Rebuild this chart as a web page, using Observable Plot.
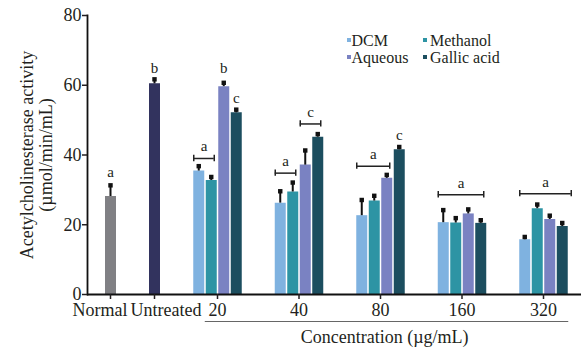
<!DOCTYPE html>
<html><head><meta charset="utf-8">
<script src="https://cdn.jsdelivr.net/npm/d3@7"></script>
<script src="https://cdn.jsdelivr.net/npm/@observablehq/plot@0.6"></script>
<style>
body{margin:0;background:#fff;}
#chart{position:relative;width:581px;height:351px;font-family:"Liberation Serif","Times New Roman",serif;color:#231f20;}
#chart svg{position:absolute;left:0;top:0;}
.lg{position:absolute;font-size:16px;line-height:16px;white-space:nowrap;}
.sw{position:absolute;width:4px;height:4px;}
</style></head><body><div id="chart"></div>
<script>
// ---- data ----
const groups = ["Normal", "Untreated", "20", "40", "80", "160", "320"];
const controls = ["Normal", "Untreated"];
const controlValues = [28.1, 60.4];
const controlErrors = [3.2, 1.3];
const concentrations = ["20", "40", "80", "160", "320"];
const series = ["DCM", "Methanol", "Aqueous", "Gallic acid"];
const dcmValues = [35.4, 26.2, 22.6, 20.6, 15.7];
const dcmErrors = [1.4, 3.4, 4.5, 3.6, 0.8];
const methanolValues = [32.7, 29.4, 26.8, 20.5, 24.6];
const methanolErrors = [1.0, 2.7, 1.5, 1.4, 1.2];
const aqueousValues = [59.6, 37.1, 33.3, 23.1, 21.5];
const aqueousErrors = [1.1, 4.2, 1.0, 1.3, 1.1];
const gallicValues = [52.1, 45.1, 41.5, 20.4, 19.5];
const gallicErrors = [0.9, 0.9, 0.8, 0.9, 1.0];

// significance letters over single bars
const letterGroups = ["Normal", "Untreated", "20", "20", "80"];
const letterSeries = [null, null, "Aqueous", "Gallic acid", "Gallic acid"];
const letterText = ["a", "b", "b", "c", "c"];
const letterY = [35.0, 64.8, 64.9, 56.2, 45.8];

// significance brackets
const bracketGroups = ["20", "40", "40", "80", "160", "320"];
const bracketFrom = ["DCM", "DCM", "Aqueous", "DCM", "DCM", "DCM"];
const bracketTo = ["Methanol", "Methanol", "Gallic acid", "Aqueous", "Gallic acid", "Gallic acid"];
const bracketText = ["a", "a", "c", "a", "a", "a"];
const bracketY = [39.0, 34.8, 48.9, 36.8, 28.6, 28.9];

// ---- styles ----
const colorKeys = ["Normal", "Untreated", "DCM", "Methanol", "Aqueous", "Gallic acid"];
const colorValues = ["#808084", "#32335e", "#7fb2e0", "#2d94a4", "#7a82c2", "#1c4e5f"];
const groupPx = 81.5;           // px per group step
const barStepPx = 12.5;         // px between bars in a group
const barStep = barStepPx / groupPx;

const seriesValues = [dcmValues, methanolValues, aqueousValues, gallicValues];
const seriesErrors = [dcmErrors, methanolErrors, aqueousErrors, gallicErrors];

function pos(group, s) {
  const g = groups.indexOf(group);
  if (s == null) return g;
  return g + (series.indexOf(s) - 1.5) * barStep;
}

const rows = [];
controls.forEach((c, i) => rows.push({group: c, key: c, x: pos(c, null), value: controlValues[i], error: controlErrors[i]}));
series.forEach((s, k) => concentrations.forEach((c, j) => rows.push({group: c, key: s, x: pos(c, s), value: seriesValues[k][j], error: seriesErrors[k][j]})));

const letters = letterGroups.map((g, i) => ({x: pos(g, letterSeries[i]), y: letterY[i], text: letterText[i]}));
const padL = 5 / groupPx, padR = 3 / groupPx, tickH = 0.9;
const brackets = bracketGroups.map((g, i) => ({
  x1: pos(g, bracketFrom[i]) - padL,
  x2: pos(g, bracketTo[i]) + padR + (g === "320" ? 6 / groupPx : 0),
  y: bracketY[i], text: bracketText[i]
}));

const chart = Plot.plot({
  width: 581, height: 351,
  marginLeft: 87, marginRight: 0, marginTop: 15, marginBottom: 57,
  style: {fontFamily: "Liberation Serif, Times New Roman, serif", fontSize: "18px", color: "#231f20", background: "transparent"},
  x: {type: "linear", domain: [0, 1, 1.6, 6], range: [110, 154, 184.4, 543], axis: null},
  y: {domain: [0, 80], axis: null},
  color: {type: "ordinal", domain: colorKeys, range: colorValues},
  marks: [
    Plot.ruleX(rows, {x: "x", y1: 0, y2: "value", stroke: "key", strokeWidth: 11}),
    Plot.ruleX(rows, {x: "x", y1: "value", y2: d => d.value + d.error, stroke: "#111", strokeWidth: 2}),
    Plot.dot(rows, {x: "x", y: d => d.value + d.error, symbol: "square", r: 2.5, fill: "#111", stroke: "none"}),
    Plot.ruleY(brackets, {x1: "x1", x2: "x2", y: "y", stroke: "#222", strokeWidth: 1.5}),
    Plot.ruleX(brackets, {x: "x1", y1: d => d.y - tickH, y2: d => d.y + tickH, stroke: "#222", strokeWidth: 1.5}),
    Plot.ruleX(brackets, {x: "x2", y1: d => d.y - tickH, y2: d => d.y + tickH, stroke: "#222", strokeWidth: 1.5}),
    Plot.text(brackets, {x: d => (d.x1 + d.x2) / 2, y: "y", text: "text", dy: -12, fontSize: 15, fill: "#231f20"}),
    Plot.text(letters, {x: "x", y: "y", text: "text", fontSize: 15, fill: "#231f20"}),
    Plot.ruleY([0], {stroke: "#111", strokeWidth: 1.8}),
    Plot.frame({anchor: "left", stroke: "#111", strokeWidth: 1.8}),
    Plot.axisY({ticks: [0, 20, 40, 60, 80], tickSize: 5, tickPadding: 1, fontSize: 18, tickFormat: d => String(d), strokeWidth: 1.5}),
    Plot.axisX({ticks: d3.range(groups.length), tickSize: 5, tickPadding: 4, fontSize: 18, tickFormat: i => (controls.includes(groups[i]) ? "" : groups[i]), strokeWidth: 1.5, label: null}),
    Plot.text([controls[0]], {x: () => pos(controls[0], null), y: () => 0, text: d => d, textAnchor: "end", lineAnchor: "top", dx: 17, dy: 9, fontSize: 18, fill: "#231f20"}),
    Plot.text([controls[1]], {x: () => pos(controls[1], null), y: () => 0, text: d => d, textAnchor: "start", lineAnchor: "top", dx: -24, dy: 9, fontSize: 18, fill: "#231f20"}),
    Plot.ruleY([0], {x1: groups.indexOf("20") - 0.15, x2: groups.indexOf("320") + 0.31, dy: 27, stroke: "#666", strokeWidth: 1}),
    Plot.text(["Concentration (µg/mL)"], {x: 4.05, y: 0, dy: 43, fontSize: 18, fill: "#231f20"}),
    Plot.text(["Acetylcholinesterase activity\n(µmol/min/mL)"], {frameAnchor: "left", textAnchor: "middle", rotate: -90, dx: -51, fontSize: 18, lineHeight: 1.05, fill: "#231f20"})
  ]
});
const root = document.getElementById("chart");
root.appendChild(chart);

// legend
series.forEach((s, i) => {
  const col = i % 2, row = Math.floor(i / 2);
  const left = 347 + col * 76, baseline = 46 + row * 17;
  const sw = document.createElement("div");
  sw.className = "sw";
  sw.style.left = left + "px";
  sw.style.top = (baseline - 8) + "px";
  sw.style.background = colorValues[colorKeys.indexOf(s)];
  root.appendChild(sw);
  const t = document.createElement("div");
  t.className = "lg";
  t.textContent = s;
  t.style.left = (left + (col ? 7 : 4.5)) + "px";
  t.style.top = (baseline - 13.4) + "px";
  root.appendChild(t);
});
</script></body></html>
